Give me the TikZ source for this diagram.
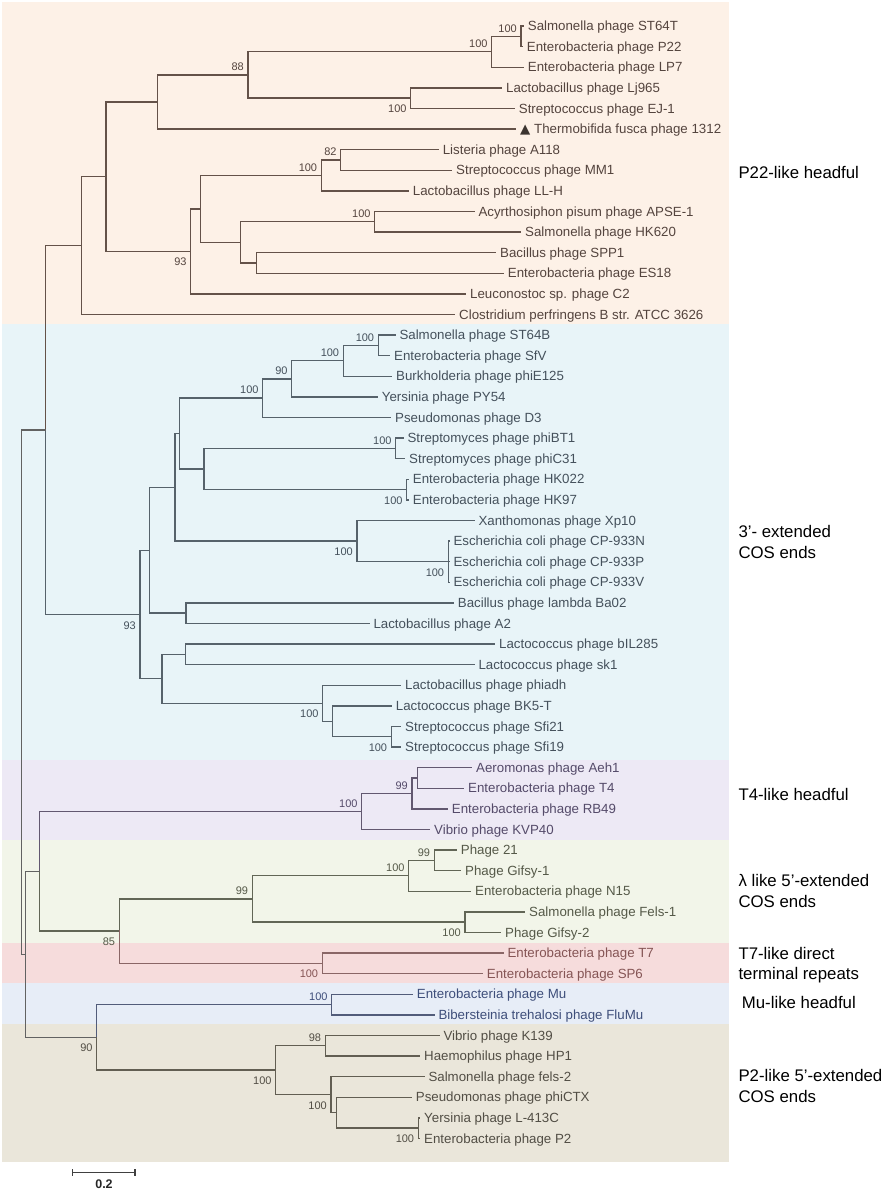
\documentclass[tikz,border=0pt]{standalone}
\usepackage{fontspec}
\setmainfont{Liberation Sans}
\newfontfamily\dejavu{DejaVu Sans}
\definecolor{bgA}{HTML}{FDF1E7}
\definecolor{bgB}{HTML}{E8F4F8}
\definecolor{bgC}{HTML}{EDE9F5}
\definecolor{bgD}{HTML}{F2F5E9}
\definecolor{bgE}{HTML}{F6DCDC}
\definecolor{bgF}{HTML}{E7EDF7}
\definecolor{bgG}{HTML}{EAE6DA}
\definecolor{lnA}{HTML}{645249}\definecolor{txA}{HTML}{54443E}
\definecolor{lnB}{HTML}{56626B}\definecolor{txB}{HTML}{45515C}
\definecolor{lnC}{HTML}{625870}\definecolor{txC}{HTML}{554B6A}
\definecolor{lnD}{HTML}{626656}\definecolor{txD}{HTML}{555948}
\definecolor{lnE}{HTML}{8A6666}\definecolor{txE}{HTML}{855555}
\definecolor{lnF}{HTML}{525C7A}\definecolor{txF}{HTML}{3E4E7A}
\definecolor{lnG}{HTML}{625E52}\definecolor{txG}{HTML}{524E45}
\definecolor{lnR}{HTML}{626262}
\definecolor{tri}{HTML}{3C3430}
\begin{document}
\begin{tikzpicture}[x=1pt,y=-1pt,
  leaf/.style={anchor=west,inner xsep=4.3pt,inner ysep=0pt,text height=9.4pt,text depth=0pt,font=\fontsize{13.3pt}{15pt}\selectfont},
  bsa/.style={anchor=south east,inner sep=0pt,xshift=-4pt,yshift=4pt,text height=7.9pt,text depth=0pt,font=\fontsize{11pt}{13pt}\selectfont},
  bsb/.style={anchor=north east,inner sep=0pt,xshift=-4pt,yshift=-6.5pt,text height=7.9pt,text depth=0pt,font=\fontsize{11pt}{13pt}\selectfont},
  grp/.style={anchor=west,inner sep=0pt,text height=12.3pt,text depth=0pt,font=\fontsize{16.8pt}{20pt}\selectfont,text=black},
  br/.style={line width=1.4pt,line cap=rect},
  eA/.style={br,draw=lnA},eB/.style={br,draw=lnB},eC/.style={br,draw=lnC},eD/.style={br,draw=lnD},
  eE/.style={br,draw=lnE},eF/.style={br,draw=lnF},eG/.style={br,draw=lnG},eR/.style={br,draw=lnR}]
\useasboundingbox (0,0) rectangle (884,1191);
% bands
\fill[bgA] (2,2) rectangle (729,324);
\fill[bgB] (2,324) rectangle (729,760);
\fill[bgC] (2,760) rectangle (729,840);
\fill[bgD] (2,840) rectangle (729,943);
\fill[bgE] (2,943) rectangle (729,983);
\fill[bgF] (2,983) rectangle (729,1024);
\fill[bgG] (2,1024) rectangle (729,1162);

% ---------- leaves ----------
\begin{scope}[every node/.append style={text=txA}]
\node[leaf] (L0) at (523.4,26) {Salmonella phage ST64T};
\node[leaf] (L1) at (522.4,46.6) {Enterobacteria phage P22};
\node[leaf] (L2) at (523.4,67.2) {Enterobacteria phage LP7};
\node[leaf] (L3) at (501.7,87.8) {Lactobacillus phage Lj965};
\node[leaf] (L4) at (514.4,108.4) {Streptococcus phage EJ-1};
\node[leaf,inner xsep=5pt] (L5) at (515,129) {{\dejavu\color{tri}▲} Thermobifida fusca phage 1312};
\node[leaf] (L6) at (438.3,149.6) {Listeria phage A118};
\node[leaf] (L7) at (451.7,170.2) {Streptococcus phage MM1};
\node[leaf] (L8) at (408.4,190.8) {Lactobacillus phage LL-H};
\node[leaf] (L9) at (474,211.4) {Acyrthosiphon pisum phage APSE-1};
\node[leaf] (L10) at (520.7,232) {Salmonella phage HK620};
\node[leaf] (L11) at (495.7,252.6) {Bacillus phage SPP1};
\node[leaf] (L12) at (503.4,273.2) {Enterobacteria phage ES18};
\node[leaf] (L13) at (465.7,293.8) {Leuconostoc sp. phage C2};
\node[leaf] (L14) at (454.7,314.4) {Clostridium perfringens B str. ATCC 3626};
\end{scope}
\begin{scope}[every node/.append style={text=txB}]
\node[leaf] (L15) at (395,335) {Salmonella phage ST64B};
\node[leaf] (L16) at (389.7,355.6) {Enterobacteria phage SfV};
\node[leaf] (L17) at (391.7,376.2) {Burkholderia phage phiE125};
\node[leaf] (L18) at (377.4,396.8) {Yersinia phage PY54};
\node[leaf] (L19) at (390.7,417.4) {Pseudomonas phage D3};
\node[leaf] (L20) at (403,438) {Streptomyces phage phiBT1};
\node[leaf] (L21) at (404.7,458.6) {Streptomyces phage phiC31};
\node[leaf] (L22) at (408.4,479.2) {Enterobacteria phage HK022};
\node[leaf] (L23) at (408.4,499.8) {Enterobacteria phage HK97};
\node[leaf] (L24) at (474,520.4) {Xanthomonas phage Xp10};
\node[leaf] (L25) at (449,541) {Escherichia coli phage CP-933N};
\node[leaf] (L26) at (449,561.6) {Escherichia coli phage CP-933P};
\node[leaf] (L27) at (449,582.2) {Escherichia coli phage CP-933V};
\node[leaf] (L28) at (453.4,602.8) {Bacillus phage lambda Ba02};
\node[leaf] (L29) at (369,623.4) {Lactobacillus phage A2};
\node[leaf] (L30) at (494.7,644) {Lactococcus phage bIL285};
\node[leaf] (L31) at (474,664.6) {Lactococcus phage sk1};
\node[leaf] (L32) at (400.7,685.2) {Lactobacillus phage phiadh};
\node[leaf] (L33) at (391.4,705.8) {Lactococcus phage BK5-T};
\node[leaf] (L34) at (400.7,726.4) {Streptococcus phage Sfi21};
\node[leaf] (L35) at (400.7,747) {Streptococcus phage Sfi19};
\end{scope}
\begin{scope}[every node/.append style={text=txC}]
\node[leaf] (L36) at (471.7,767.6) {Aeromonas phage Aeh1};
\node[leaf] (L37) at (463.7,788.2) {Enterobacteria phage T4};
\node[leaf] (L38) at (447.4,808.8) {Enterobacteria phage RB49};
\node[leaf] (L39) at (429.7,829.4) {Vibrio phage KVP40};
\end{scope}
\begin{scope}[every node/.append style={text=txD}]
\node[leaf] (L40) at (456.4,850) {Phage 21};
\node[leaf] (L41) at (460.7,870.6) {Phage Gifsy-1};
\node[leaf] (L42) at (470.7,891.2) {Enterobacteria phage N15};
\node[leaf] (L43) at (524.7,911.8) {Salmonella phage Fels-1};
\node[leaf] (L44) at (500.7,932.4) {Phage Gifsy-2};
\end{scope}
\begin{scope}[every node/.append style={text=txE}]
\node[leaf] (L45) at (503,953) {Enterobacteria phage T7};
\node[leaf] (L46) at (482.4,973.6) {Enterobacteria phage SP6};
\end{scope}
\begin{scope}[every node/.append style={text=txF}]
\node[leaf] (L47) at (412.4,994.2) {Enterobacteria phage Mu};
\node[leaf] (L48) at (434,1014.8) {Bibersteinia trehalosi phage FluMu};
\end{scope}
\begin{scope}[every node/.append style={text=txG}]
\node[leaf] (L49) at (439,1035.4) {Vibrio phage K139};
\node[leaf] (L50) at (419.7,1056) {Haemophilus phage HP1};
\node[leaf] (L51) at (424,1076.6) {Salmonella phage fels-2};
\node[leaf] (L52) at (411.4,1097.2) {Pseudomonas phage phiCTX};
\node[leaf] (L53) at (419.7,1117.8) {Yersinia phage L-413C};
\node[leaf] (L54) at (419.7,1138.4) {Enterobacteria phage P2};
\end{scope}

% ---------- internal nodes ----------
\coordinate (a1) at (521,36.3);
\coordinate (a2) at (491.7,51.75);
\coordinate (a3) at (410.7,98.1);
\coordinate (a4) at (248,74.9);
\coordinate (a5) at (157.3,101.95);
\coordinate (a6) at (340.7,159.9);
\coordinate (a7) at (321.3,175.35);
\coordinate (a8) at (374.7,221.7);
\coordinate (a9) at (256.3,262.9);
\coordinate (a10) at (240.7,242.3);
\coordinate (a11) at (200.7,208.8);
\coordinate (a12) at (190.7,251.3);
\coordinate (a13) at (106,176.6);
\coordinate (a14) at (81.3,245.5);
\coordinate (b1) at (378.3,345.3);
\coordinate (b2) at (343.3,360.75);
\coordinate (b3) at (291.7,378.8);
\coordinate (b4) at (262.7,398.1);
\coordinate (b5) at (395.7,448.3);
\coordinate (b6) at (406.7,489.5);
\coordinate (b7) at (204,468.9);
\coordinate (b8) at (179.3,433.5);
\coordinate (b9) at (448.3,561.6);
\coordinate (b10) at (357,541);
\coordinate (b11) at (175,487.25);
\coordinate (b12) at (186,613.1);
\coordinate (b13) at (149.7,550.2);
\coordinate (b14) at (185.3,654.3);
\coordinate (b15) at (391.3,736.7);
\coordinate (b16) at (332.3,721.25);
\coordinate (b17) at (322.7,703.2);
\coordinate (b18) at (162,678.75);
\coordinate (b19) at (140,614.5);
\coordinate (c0) at (45.3,430);
\coordinate (d1) at (417.7,777.9);
\coordinate (d2) at (412,793.35);
\coordinate (d3) at (361.7,811.4);
\coordinate (e1) at (434.3,860.3);
\coordinate (e2) at (408.7,875.75);
\coordinate (e3) at (465,922.1);
\coordinate (e4) at (252.3,898.9);
\coordinate (f1) at (322.3,963.3);
\coordinate (g1) at (119.3,931.1);
\coordinate (g2) at (39.3,871.25);
\coordinate (h1) at (331.7,1004.5);
\coordinate (i1) at (325.3,1045.7);
\coordinate (i2) at (418.3,1128.1);
\coordinate (i3) at (336.7,1112.65);
\coordinate (i4) at (331,1094.6);
\coordinate (i5) at (275.7,1070.15);
\coordinate (h2) at (96.7,1037.3);
\coordinate (g3) at (25.7,954.3);
\coordinate (root) at (21.7,692);

% ---------- branches ----------
\draw[eA] (a1) |- (L0.west) (a1) |- (L1.west);
\draw[eA] (a2) |- (a1) (a2) |- (L2.west);
\draw[eA] (a3) |- (L3.west) (a3) |- (L4.west);
\draw[eA] (a4) |- (a2) (a4) |- (a3);
\draw[eA] (a5) |- (a4) (a5) |- (L5.west);
\draw[eA] (a6) |- (L6.west) (a6) |- (L7.west);
\draw[eA] (a7) |- (a6) (a7) |- (L8.west);
\draw[eA] (a8) |- (L9.west) (a8) |- (L10.west);
\draw[eA] (a9) |- (L11.west) (a9) |- (L12.west);
\draw[eA] (a10) |- (a8) (a10) |- (a9);
\draw[eA] (a11) |- (a7) (a11) |- (a10);
\draw[eA] (a12) |- (a11) (a12) |- (L13.west);
\draw[eA] (a13) |- (a5) (a13) |- (a12);
\draw[eA] (a14) |- (a13) (a14) |- (L14.west);
\draw[eA] (c0) |- (a14);

\draw[eB] (b1) |- (L15.west) (b1) |- (L16.west);
\draw[eB] (b2) |- (b1) (b2) |- (L17.west);
\draw[eB] (b3) |- (b2) (b3) |- (L18.west);
\draw[eB] (b4) |- (b3) (b4) |- (L19.west);
\draw[eB] (b5) |- (L20.west) (b5) |- (L21.west);
\draw[eB] (b6) |- (L22.west) (b6) |- (L23.west);
\draw[eB] (b7) |- (b5) (b7) |- (b6);
\draw[eB] (b8) |- (b4) (b8) |- (b7);
\draw[eB] (b9) |- (L25.west) (b9) |- (L26.west) (b9) |- (L27.west);
\draw[eB] (b10) |- (L24.west) (b10) |- (b9);
\draw[eB] (b11) |- (b8) (b11) |- (b10);
\draw[eB] (b12) |- (L28.west) (b12) |- (L29.west);
\draw[eB] (b13) |- (b11) (b13) |- (b12);
\draw[eB] (b14) |- (L30.west) (b14) |- (L31.west);
\draw[eB] (b15) |- (L34.west) (b15) |- (L35.west);
\draw[eB] (b16) |- (L33.west) (b16) |- (b15);
\draw[eB] (b17) |- (L32.west) (b17) |- (b16);
\draw[eB] (b18) |- (b14) (b18) |- (b17);
\draw[eB] (b19) |- (b13) (b19) |- (b18);
\draw[eB] (c0) |- (b19);

\draw[eR] (root) |- (c0) (root) |- (g3);
\draw[eR] (g3) |- (g2) (g3) |- (h2);

\draw[eC] (d1) |- (L36.west) (d1) |- (L37.west);
\draw[eC] (d2) |- (d1) (d2) |- (L38.west);
\draw[eC] (d3) |- (d2) (d3) |- (L39.west);
\draw[eC] (g2) |- (d3);

\draw[eD] (e1) |- (L40.west) (e1) |- (L41.west);
\draw[eD] (e2) |- (e1) (e2) |- (L42.west);
\draw[eD] (e3) |- (L43.west) (e3) |- (L44.west);
\draw[eD] (e4) |- (e2) (e4) |- (e3);
\draw[eD] (g1) |- (e4);
\draw[eD] (g2) |- (g1);

\draw[eE] (f1) |- (L45.west) (f1) |- (L46.west);
\draw[eE] (g1) |- (f1);

\draw[eF] (h1) |- (L47.west) (h1) |- (L48.west);
\draw[eF] (h2) |- (h1);

\draw[eG] (i1) |- (L49.west) (i1) |- (L50.west);
\draw[eG] (i2) |- (L53.west) (i2) |- (L54.west);
\draw[eG] (i3) |- (L52.west) (i3) |- (i2);
\draw[eG] (i4) |- (L51.west) (i4) |- (i3);
\draw[eG] (i5) |- (i1) (i5) |- (i4);
\draw[eG] (h2) |- (i5);

% ---------- bootstrap values ----------
\begin{scope}[every node/.append style={text=txA}]
\node[bsa] (s-a1) at (a1) {100};
\node[bsa] (s-a2) at (a2) {100};
\node[bsb] (s-a3) at (a3) {100};
\node[bsa] (s-a4) at (a4) {88};
\node[bsa] (s-a6) at (a6) {82};
\node[bsa] (s-a7) at (a7) {100};
\node[bsa] (s-a8) at (a8) {100};
\node[bsb] (s-a12) at (a12) {93};
\end{scope}
\begin{scope}[every node/.append style={text=txB}]
\node[bsa] (s-b1) at (b1) {100};
\node[bsa] (s-b2) at (b2) {100};
\node[bsa] (s-b3) at (b3) {90};
\node[bsa] (s-b4) at (b4) {100};
\node[bsa] (s-b5) at (b5) {100};
\node[bsb] (s-b6) at (b6) {100};
\node[bsb] (s-b9) at (b9) {100};
\node[bsb] (s-b10) at (b10) {100};
\node[bsb] (s-b15) at (b15) {100};
\node[bsb] (s-b17) at (b17) {100};
\node[bsb] (s-b19) at (b19) {93};
\end{scope}
\begin{scope}[every node/.append style={text=txC}]
\node[bsa] (s-d2) at (d2) {99};
\node[bsa] (s-d3) at (d3) {100};
\end{scope}
\begin{scope}[every node/.append style={text=txD}]
\node[bsa] (s-e1) at (e1) {99};
\node[bsa] (s-e2) at (e2) {100};
\node[bsb] (s-e3) at (e3) {100};
\node[bsa] (s-e4) at (e4) {99};
\node[bsb] (s-g1) at (g1) {85};
\end{scope}
\begin{scope}[every node/.append style={text=txE}]
\node[bsb] (s-f1) at (f1) {100};
\end{scope}
\begin{scope}[every node/.append style={text=txF}]
\node[bsa] (s-h1) at (h1) {100};
\end{scope}
\begin{scope}[every node/.append style={text=txG}]
\node[bsb] (s-h2) at (h2) {90};
\node[bsa] (s-i1) at (i1) {98};
\node[bsb] (s-i2) at (i2) {100};
\node[bsb] (s-i4) at (i4) {100};
\node[bsb] (s-i5) at (i5) {100};
\end{scope}

% ---------- group labels ----------
\node[grp] (gA) at (738.3,172.7) {P22-like headful};
\node[grp] (gB1) at (738.3,531.7) {3’- extended};
\node[grp] (gB2) at (738.3,552.3) {COS ends};
\node[grp] (gC) at (738.3,794.3) {T4-like headful};
\node[grp] (gD1) at (738.3,880.7) {λ like 5’-extended};
\node[grp] (gD2) at (738.3,901.3) {COS ends};
\node[grp] (gE1) at (738.3,953.3) {T7-like direct};
\node[grp] (gE2) at (738.3,973.6) {terminal repeats};
\node[grp] (gF) at (741.7,1002.7) {Mu-like headful};
\node[grp] (gG1) at (738.3,1075.7) {P2-like 5’-extended};
\node[grp] (gG2) at (738.3,1096.7) {COS ends};

% ---------- scale bar ----------
\coordinate (sb1) at (72.7,1172.3);
\coordinate (sb2) at (135,1172.3);
\draw[line width=1.4pt,draw=black!75] (sb1) -- (sb2);
\draw[line width=1.4pt,draw=black!75] ([yshift=3.3pt]sb1) -- ([yshift=-3.3pt]sb1);
\draw[line width=1.4pt,draw=black!75] ([yshift=3.3pt]sb2) -- ([yshift=-3.3pt]sb2);
\node[inner sep=0pt,text height=8.6pt,text depth=0pt,font=\fontsize{12.5pt}{14pt}\selectfont\bfseries,text=black!85] (sbl) at (104,1184.3) {0.2};
\end{tikzpicture}
\end{document}
